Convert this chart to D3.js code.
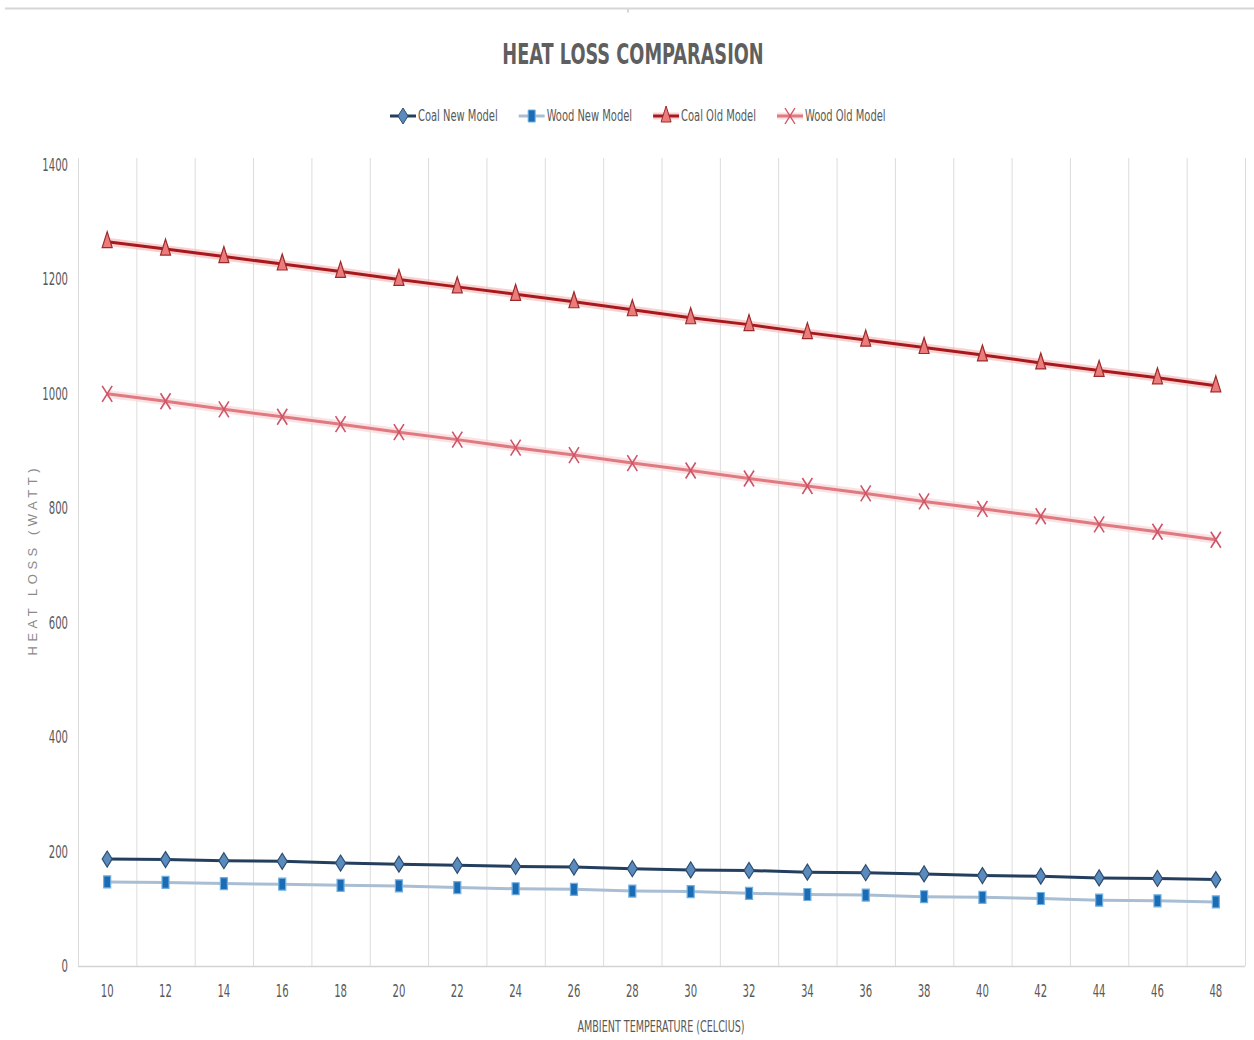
<!DOCTYPE html>
<html>
<head>
<meta charset="utf-8">
<script src="https://cdn.jsdelivr.net/npm/d3@7"></script>
<style>
  html, body { margin: 0; padding: 0; background: #fff; }
  .chart { width: 1254px; height: 1040px; }
</style>
</head>
<body>
<div class="chart"></div>
<script>
// ----------------------------------
// DATA
// ----------------------------------
const temperatures = [10, 12, 14, 16, 18, 20, 22, 24, 26, 28, 30, 32, 34, 36, 38, 40, 42, 44, 46, 48];
const coalNewModel = [187, 186, 184, 183, 180, 178, 176, 174, 173, 170, 168, 167, 164, 163, 161, 158, 157, 154, 153, 151];
const woodNewModel = [147, 146, 144, 143, 141, 140, 137, 135, 134, 131, 130, 127, 125, 124, 121, 120, 118, 115, 114, 112];
const coalOldModel = [1266, 1253, 1240, 1227, 1214, 1200, 1187, 1174, 1161, 1147, 1133, 1121, 1107, 1094, 1081, 1068, 1054, 1041, 1028, 1014];
const woodOldModel = [1000, 987, 973, 960, 947, 933, 920, 906, 893, 879, 866, 852, 839, 826, 812, 799, 786, 772, 759, 745];
const yTicks = [0, 200, 400, 600, 800, 1000, 1200, 1400];
const seriesNames = ['Coal New Model', 'Wood New Model', 'Coal Old Model', 'Wood Old Model'];

const titleText = 'HEAT LOSS COMPARASION';
const xTitleText = 'AMBIENT TEMPERATURE (CELCIUS)';
const yTitleText = 'HEAT LOSS  (WATT)';

// ----------------------------------
// LOOKS
// ----------------------------------
const narrow = '"Liberation Sans Narrow", "DejaVu Sans Condensed", "Roboto", sans-serif';
const width = 1254, height = 1040;
const plot = { left: 78, right: 1245, top: 158, bottom: 966 };

// each series: line colour, halo under the line, marker shape + colours
const styles = [
  { line: '#243f5e', halo: null,      marker: 'diamond',  fill: '#5b8bbd', stroke: '#2c4d70' },
  { line: '#a9bed3', halo: null,      marker: 'square',   fill: '#1a6cb5', stroke: '#6fb0e0' },
  { line: '#a8191e', halo: '#f3b3b3', marker: 'triangle', fill: '#ec7c7c', stroke: '#9c2a2a' },
  { line: '#df7a80', halo: '#f8cfd2', marker: 'cross',    fill: 'none',    stroke: '#cf5468' }
];
const seriesValues = [coalNewModel, woodNewModel, coalOldModel, woodOldModel];

// squash text horizontally, the source font is a very condensed one
function squeeze(sel, k){
  sel.each(function(){
    const w = this.getComputedTextLength();
    d3.select(this).attr('textLength', w * k).attr('lengthAdjust', 'spacingAndGlyphs');
  });
}

// marker outlines, centred on (cx, cy)
function markerPath(shape, cx, cy){
  const p = d3.path();
  if (shape === 'diamond'){
    p.moveTo(cx, cy - 8); p.lineTo(cx + 5, cy); p.lineTo(cx, cy + 8); p.lineTo(cx - 5, cy); p.closePath();
  } else if (shape === 'square'){
    p.rect(cx - 3.5, cy - 6, 7, 12);
  } else if (shape === 'triangle'){
    p.moveTo(cx, cy - 10); p.lineTo(cx + 5, cy + 6); p.lineTo(cx - 5, cy + 6); p.closePath();
  } else {
    p.moveTo(cx - 5, cy - 8); p.lineTo(cx + 5, cy + 8);
    p.moveTo(cx + 5, cy - 8); p.lineTo(cx - 5, cy + 8);
  }
  return p.toString();
}

// ----------------------------------
// MAKE SCALES
// ----------------------------------
const xScale = d3.scaleBand()
  .domain(temperatures)
  .range([plot.left, plot.right])
  .padding(0);
const xMid = d => xScale(d) + xScale.bandwidth() / 2;

const yScale = d3.scaleLinear()
  .domain([0, 1400])
  .range([966, 165]);

// ----------------------------------
// SVG
// ----------------------------------
const svg = d3.select('.chart')
  .append('svg')
  .attr('width', width)
  .attr('height', height);

// cut-off frame at the very top
svg.append('path')
  .attr('d', 'M5,8.5H1254M628,8.5v4')
  .attr('fill', 'none')
  .attr('stroke', '#d6d6d6')
  .attr('stroke-width', 2);

// vertical grid on the category boundaries
const gridX = temperatures.map(t => xScale(t)).concat([plot.right]);
svg.append('g')
  .selectAll('line')
  .data(gridX)
  .join('line')
  .attr('x1', d => d + 0.5).attr('x2', d => d + 0.5)
  .attr('y1', plot.top).attr('y2', yScale(0))
  .attr('stroke', '#dcdcdc')
  .attr('stroke-width', 1);

svg.append('line')
  .attr('x1', plot.left).attr('x2', plot.right)
  .attr('y1', yScale(0) + 0.5).attr('y2', yScale(0) + 0.5)
  .attr('stroke', '#d4d4d4')
  .attr('stroke-width', 1.5);

// ----------------------------------
// AXES
// ----------------------------------
const yAxis = d3.axisLeft(yScale).tickValues(yTicks).tickFormat(d3.format('d')).tickSize(0).tickPadding(10);
const yG = svg.append('g')
  .attr('class', 'y axis')
  .attr('transform', `translate(${plot.left},0)`)
  .call(yAxis);
yG.select('.domain').remove();
yG.selectAll('text')
  .style('font-family', narrow)
  .style('font-size', '17px')
  .attr('fill', '#595959');
squeeze(yG.selectAll('text'), 0.66);

const xAxis = d3.axisBottom(xScale).tickSize(0).tickPadding(19);
const xG = svg.append('g')
  .attr('class', 'x axis')
  .attr('transform', `translate(0,${yScale(0)})`)
  .call(xAxis);
xG.select('.domain').remove();
xG.selectAll('text')
  .style('font-family', narrow)
  .style('font-size', '17px')
  .attr('fill', '#595959');
squeeze(xG.selectAll('text'), 0.66);

// ----------------------------------
// LINES + MARKERS
// ----------------------------------
const lineGen = d3.line()
  .x((d, i) => xMid(temperatures[i]))
  .y(d => yScale(d));

const seriesG = svg.append('g').attr('class', 'series');
seriesValues.forEach((vals, s) => {
  const st = styles[s];
  if (st.halo){
    seriesG.append('path')
      .attr('d', lineGen(vals))
      .attr('fill', 'none')
      .attr('stroke', st.halo)
      .attr('stroke-width', 8)
      .attr('stroke-opacity', 0.6);
  }
  seriesG.append('path')
    .attr('d', lineGen(vals))
    .attr('fill', 'none')
    .attr('stroke', st.line)
    .attr('stroke-width', 3);
  seriesG.append('g')
    .selectAll('path')
    .data(vals)
    .join('path')
    .attr('d', (d, i) => markerPath(st.marker, xMid(temperatures[i]), yScale(d)))
    .attr('fill', st.fill)
    .attr('stroke', st.stroke)
    .attr('stroke-width', st.marker === 'cross' ? 1.6 : 1.2);
});

// ----------------------------------
// LABELS
// ----------------------------------
const title = svg.append('text')
  .text(titleText)
  .attr('x', 633)
  .attr('y', 64)
  .attr('text-anchor', 'middle')
  .style('font-family', narrow)
  .style('font-weight', 'bold')
  .style('font-size', '29px')
  .attr('fill', '#5f5f5f');
squeeze(title, 0.68);

const xTitle = svg.append('text')
  .text(xTitleText)
  .attr('x', 661)
  .attr('y', 1032)
  .attr('text-anchor', 'middle')
  .style('font-family', narrow)
  .style('font-size', '15px')
  .attr('fill', '#595959');
squeeze(xTitle, 0.71);

svg.append('text')
  .text(yTitleText)
  .attr('transform', 'translate(37,562) rotate(-90)')
  .attr('text-anchor', 'middle')
  .attr('textLength', 187)
  .attr('lengthAdjust', 'spacing')
  .style('font-family', '"Liberation Sans", Arial, sans-serif')
  .style('font-size', '13px')
  .attr('fill', '#8a8a8a');

// ----------------------------------
// LEGEND
// ----------------------------------
const legend = svg.append('g').attr('class', 'legend');
let lx = 390;
const ly = 116;
seriesNames.forEach((name, s) => {
  const st = styles[s];
  const item = legend.append('g');
  if (st.halo){
    item.append('line')
      .attr('x1', lx).attr('x2', lx + 26).attr('y1', ly).attr('y2', ly)
      .attr('stroke', st.halo).attr('stroke-width', 7).attr('stroke-opacity', 0.6);
  }
  item.append('line')
    .attr('x1', lx).attr('x2', lx + 26).attr('y1', ly).attr('y2', ly)
    .attr('stroke', st.line).attr('stroke-width', 3);
  item.append('path')
    .attr('d', markerPath(st.marker, lx + 13, ly))
    .attr('fill', st.fill)
    .attr('stroke', st.stroke)
    .attr('stroke-width', st.marker === 'cross' ? 1.4 : 1);
  const t = item.append('text')
    .text(name)
    .attr('x', lx + 28)
    .attr('y', ly + 5)
    .style('font-family', narrow)
    .style('font-size', '16px')
    .attr('fill', '#595959');
  squeeze(t, 0.69);
  lx += 28 + (+t.attr('textLength')) + 21;
});
</script>
</body>
</html>
